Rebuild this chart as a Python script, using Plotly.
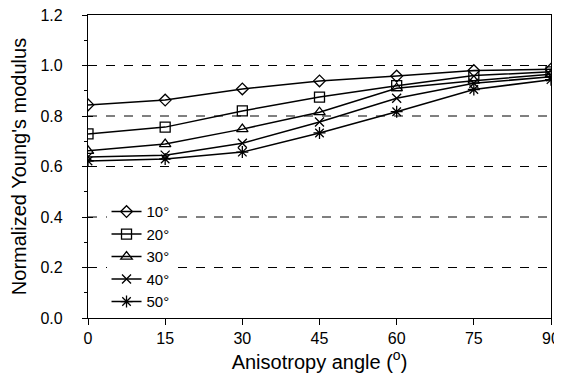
import plotly.graph_objects as go

angles = [0, 15, 30, 45, 60, 75, 90]
series_names = ["10°", "20°", "30°", "40°", "50°"]
s10 = [0.844, 0.863, 0.907, 0.939, 0.958, 0.980, 0.985]
s20 = [0.729, 0.756, 0.820, 0.875, 0.920, 0.960, 0.975]
s30 = [0.662, 0.689, 0.748, 0.815, 0.910, 0.940, 0.965]
s40 = [0.638, 0.645, 0.692, 0.776, 0.870, 0.930, 0.955]
s50 = [0.622, 0.630, 0.657, 0.733, 0.817, 0.905, 0.944]
y_ticks = [0.0, 0.2, 0.4, 0.6, 0.8, 1.0, 1.2]
x_ticks = [0, 15, 30, 45, 60, 75, 90]
grid_levels = [0.2, 0.4, 0.6, 0.8, 1.0]

symbols = ["diamond-open", "square-open", "triangle-up-open", "x-thin-open", "asterisk-open"]
sizes = [9, 10, 10, 9, 10]

fig = go.Figure()
for name, vals, sym, sz in zip(series_names, [s10, s20, s30, s40, s50], symbols, sizes):
    fig.add_trace(go.Scatter(
        x=angles, y=vals, name=name, mode="lines+markers",
        line=dict(color="black", width=1.5),
        marker=dict(symbol=sym, size=sz, color="black",
                    line=dict(color="black", width=1.3)),
    ))

for g in grid_levels:
    fig.add_shape(type="line", xref="x", yref="y", x0=0, x1=90, y0=g, y1=g,
                  line=dict(color="black", width=1, dash="dash"), layer="below")

font_fam = "Liberation Sans, Arial, sans-serif"
fig.update_layout(
    width=554, height=375,
    margin=dict(l=80, r=11, t=7, b=65, autoexpand=False),
    plot_bgcolor="white", paper_bgcolor="white",
    font=dict(family=font_fam, color="black", size=16),
    showlegend=True,
    legend=dict(x=0.04, y=0.405, xanchor="left", yanchor="top",
                bgcolor="white", borderwidth=0,
                font=dict(size=15, family=font_fam),
                tracegroupgap=0, itemsizing="trace"),
    xaxis=dict(range=[0, 90], tickvals=x_ticks, ticks="outside", ticklen=6,
               tickcolor="black", showline=True, linecolor="black", linewidth=1.2,
               mirror=True, showgrid=False, zeroline=False, automargin=False,
               ticklabeloverflow="allow",
               title=dict(text="Anisotropy angle (<sup>o</sup>)", font=dict(size=20), standoff=6),
               tickfont=dict(size=16)),
    yaxis=dict(range=[0, 1.2], tickvals=y_ticks, tickformat=".1f", ticks="outside",
               ticklen=5, tickcolor="black", showline=True, linecolor="black",
               linewidth=1.2, mirror=True, showgrid=False, zeroline=False,
               automargin=False, ticklabelstandoff=16, ticklabeloverflow="allow",
               minor=dict(dtick=0.1, ticks="outside", ticklen=3, tickcolor="black", showgrid=False),
               title=dict(text="Normalized Young's modulus", font=dict(size=20), standoff=8),
               tickfont=dict(size=16)),
    yaxis2=dict(range=[0, 1.2], overlaying="y", side="left", tickvals=y_ticks,
                ticks="inside", ticklen=5, tickcolor="black", showticklabels=False,
                showgrid=False, zeroline=False, showline=False, automargin=False),
)
fig.add_trace(go.Scatter(x=[None], y=[None], yaxis="y2", showlegend=False, hoverinfo="skip"))

fig.write_html("out.html")
